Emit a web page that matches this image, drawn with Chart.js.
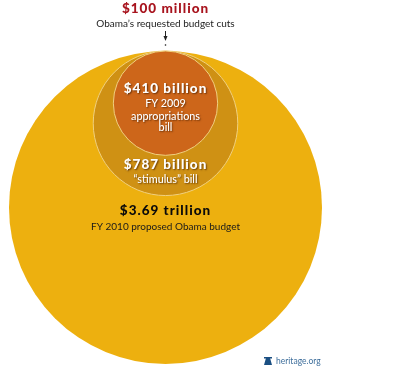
<!DOCTYPE html>
<html>
<head>
<meta charset="utf-8">
<title>Budget circles</title>
<script src="https://cdn.jsdelivr.net/npm/chart.js@4"></script>
<style>
  html, body { margin: 0; padding: 0; background: #fff; }
  #wrap { width: 400px; height: 373px; }
</style>
</head>
<body>
<div id="wrap"><canvas id="myChart" width="400" height="373"></canvas></div>
<script>
// amounts in billions of dollars, largest first so the small ones draw on top
const categories = ["FY 2010 proposed Obama budget", "\u201Cstimulus\u201D bill", "FY 2009 appropriations bill", "Obama\u2019s requested budget cuts"];
const amounts = [3690, 787, 410, 0.1];
const amountLabels = ["$3.69 trillion", "$787 billion", "$410 billion", "$100 million"];
const circleColors = ["#EDB00F", "#CF9114", "#CD661A", "#111111"];
const edgeColors = ["#EDB00F", "#F0D080", "#F0D080", "#111111"];

const maxRadius = 156.5;
const radiusOf = (v) => maxRadius * Math.sqrt(v / amounts[0]);

const ctx = document.getElementById("myChart").getContext("2d");

// all the text sits on the canvas, same coordinates as the picture
const labelsPlugin = {
  id: "labels",
  afterDraw(chart) {
    const c = chart.ctx;
    const cx = chart.scales.x.getPixelForValue(0);
    const put = (text, y, font, color, spacing, shadow) => {
      c.save();
      c.font = font;
      c.fillStyle = color;
      c.textAlign = "center";
      c.textBaseline = "middle";
      c.letterSpacing = spacing || "0px";
      if (shadow) {
        c.shadowColor = "rgba(70,30,0,0.7)";
        c.shadowBlur = 1.5;
        c.shadowOffsetX = 1;
        c.shadowOffsetY = 1;
      }
      c.fillText(text, cx, y);
      c.restore();
    };
    const head = "900 13.5px Lato";
    const sub = "10px Lato";
    const subWhite = "500 10.8px Lato";

    put(amountLabels[3], 8.5, head, "#A8141E", "1px");
    put(categories[3], 24, "10px Lato", "#222222");

    put(amountLabels[2], 89, head, "#FFFFFF", "1px", true);
    put("FY 2009", 104, subWhite, "#FFFFFF", "0px", true);
    put("appropriations", 116.5, subWhite, "#FFFFFF", "0px", true);
    put("bill", 128, subWhite, "#FFFFFF", "0px", true);

    put(amountLabels[1], 165, head, "#FFFFFF", "1px", true);
    put(categories[1], 180, subWhite, "#FFFFFF", "0px", true);

    put(amountLabels[0], 211, head, "#0A0A0A", "1px");
    put(categories[0], 227, sub, "#1A1A1A");

    // little arrow down to the $100 million dot
    c.save();
    c.strokeStyle = "#222222";
    c.lineWidth = 1;
    c.beginPath();
    c.moveTo(cx, 31);
    c.lineTo(cx, 40);
    c.stroke();
    c.fillStyle = "#222222";
    c.beginPath();
    c.moveTo(cx - 2, 36);
    c.lineTo(cx + 2, 36);
    c.lineTo(cx, 41);
    c.closePath();
    c.fill();
    c.restore();

    // bell and site name
    c.save();
    c.fillStyle = "#1B4F82";
    c.fillRect(264, 357, 8, 1.5);
    c.beginPath();
    c.moveTo(266, 358);
    c.lineTo(270, 358);
    c.lineTo(272, 365);
    c.lineTo(264, 365);
    c.closePath();
    c.fill();
    c.font = "8.5px Lato";
    c.fillStyle = "#3F6F9C";
    c.textAlign = "left";
    c.textBaseline = "middle";
    c.fillText("heritage.org", 276, 361);
    c.restore();
  },
};

new Chart(ctx, {
  type: "bubble",
  data: {
    labels: categories,
    datasets: [
      {
        label: "Budget",
        // circles all touch at the top, so y is just the radius
        data: amounts.map((v) => ({ x: 0, y: v === 0.1 ? -6 : radiusOf(v), r: radiusOf(v) })),
        backgroundColor: circleColors,
        borderColor: edgeColors,
        borderWidth: [0, 1, 1, 0],
        hoverRadius: 0,
      },
    ],
  },
  options: {
    responsive: false,
    animation: false,
    clip: false,
    layout: { padding: 0, autoPadding: false },
    plugins: { legend: { display: false }, tooltip: { enabled: false } },
    scales: {
      x: { type: "linear", display: false, min: -165.5, max: 234.5 },
      y: { type: "linear", display: false, min: -51, max: 322, reverse: true },
    },
  },
  plugins: [labelsPlugin],
});
</script>
</body>
</html>
